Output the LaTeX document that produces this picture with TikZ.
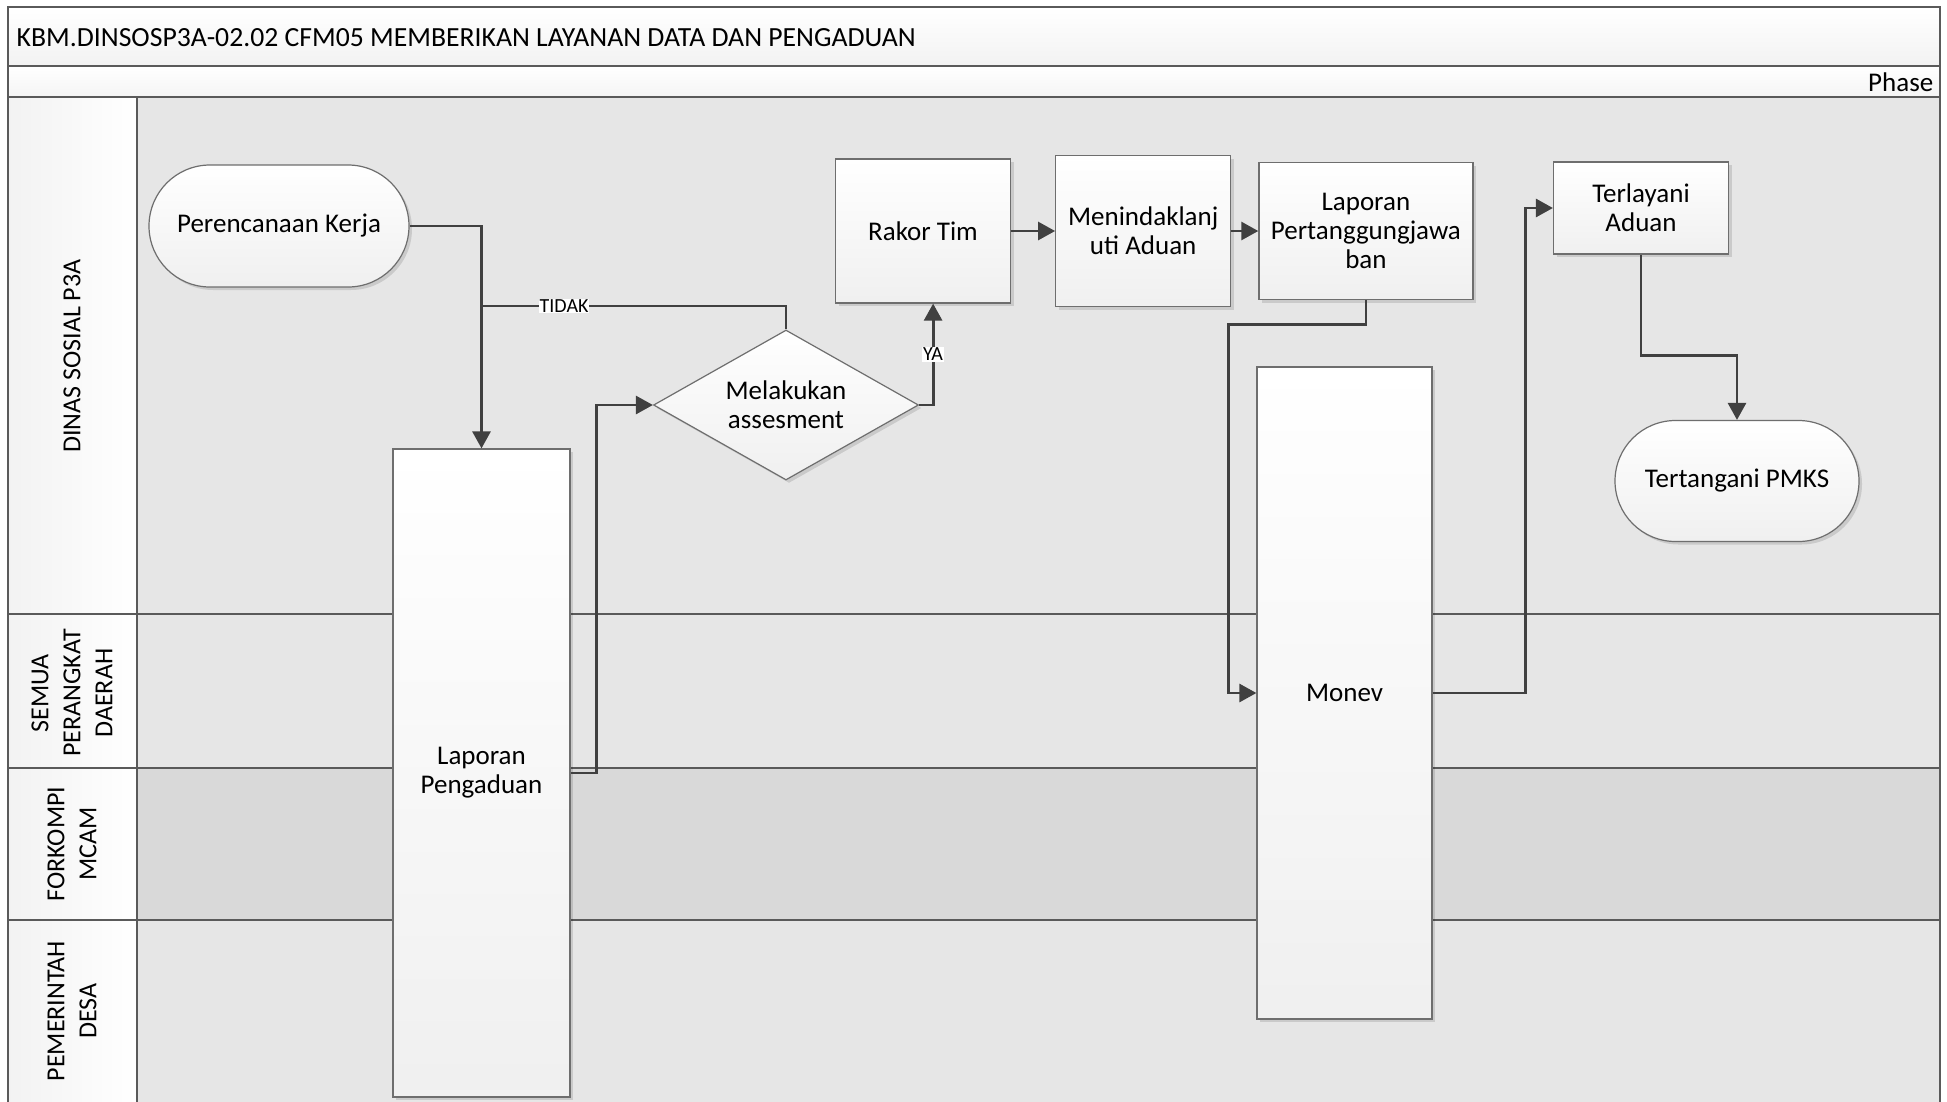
\documentclass[tikz,border=0pt]{standalone}
\usepackage{fontspec}
\setmainfont{Carlito}
\usetikzlibrary{arrows.meta, positioning, shapes.geometric, shapes.misc, shadows}

\definecolor{lanegray}{HTML}{E6E6E6}
\definecolor{lanedark}{HTML}{D9D9D9}
\definecolor{rulegray}{HTML}{5A5A5A}
\definecolor{linkgray}{HTML}{404040}
\definecolor{boxline}{HTML}{6E6E6E}

\begin{document}
\begin{tikzpicture}[x=1pt,y=-1pt,>=Triangle,thick,
  font=\fontsize{27}{29}\selectfont,
  base node/.style={draw=boxline,line width=1.2pt,top color=white,bottom color=black!6,
    drop shadow={shadow xshift=3pt,shadow yshift=-3pt,fill=black,opacity=0.12},
    align=center,inner sep=2pt},
  proc node/.style={base node,rectangle,minimum width=175pt},
  term node/.style={base node,rounded rectangle,minimum height=122pt},
  dec node/.style={base node,diamond,aspect=1.77,minimum width=265pt,minimum height=150pt,inner sep=0pt},
  lane label/.style={rotate=90,align=center,font=\fontsize{26}{32}\selectfont},
  link/.style={draw=linkgray,line width=2.8pt},
  flow/.style={link,-{Triangle[length=17pt,width=18pt]}},
  tag/.style={fill=white,inner sep=1pt,font=\fontsize{20}{22}\selectfont}]
  \useasboundingbox (0,0) rectangle (1947,1101);
  % title and phase
  \draw[rulegray,line width=1.5pt,top color=white,bottom color=black!5] (8,7) rectangle (1940,66);
  \node[anchor=west,font=\fontsize{27.7}{30}\selectfont] (title) at (13,38) {KBM.DINSOSP3A-02.02 CFM05 MEMBERIKAN LAYANAN DATA DAN PENGADUAN};
  \draw[rulegray,line width=1.5pt,top color=white,bottom color=black!4] (8,66) rectangle (1940,97);
  \node[anchor=east] (phase) at (1937,82) {Phase};
  % lanes
  \foreach \ytop/\ybot/\col in {97/614/lanegray,614/768/lanegray,768/920/lanedark,920/1120/lanegray}{
    \draw[rulegray,line width=1.5pt,fill=\col] (137,\ytop) rectangle (1940,\ybot);
    \draw[rulegray,line width=1.5pt,left color=black!5,right color=white] (8,\ytop) rectangle (137,\ybot);
  }
  \node[lane label] (dinas) at (72,356) {DINAS SOSIAL P3A};
  \node[lane label] (semua) at (72,693) {SEMUA\\PERANGKAT\\DAERAH};
  \node[lane label] (forko) at (72,844) {FORKOMPI\\MCAM};
  \node[lane label] (desa) at (72,1011) {PEMERINTAH\\DESA};
  % steps
  \node[term node,minimum width=264pt] (plan) at (279,226) {Perencanaan Kerja};
  \node[proc node,minimum width=177pt,minimum height=648pt] (lapor) at (481.5,773) {Laporan\\Pengaduan};
  \node[dec node] (assess) at (786,405) {Melakukan\\assesment};
  \node[proc node,minimum height=144pt] (rakor) at (923,231) {Rakor Tim};
  \node[proc node,minimum height=151pt,right=44pt of rakor] (tindak) {Menindaklanj\\uti Aduan};
  \node[proc node,minimum width=214pt,minimum height=137pt,right=27pt of tindak] (lpj) {Laporan\\Pertanggungjawa\\ban};
  \node[proc node,minimum height=652pt] (monev) at (1344.5,693) {Monev};
  \node[proc node,minimum height=92pt] (layan) at (1641,208) {Terlayani\\Aduan};
  \node[term node,minimum width=248pt,minimum height=121pt] (pmks) at (1737,481) {Tertangani PMKS};
  \coordinate (tidak) at (482,306);
  % connectors
  \draw[flow] (plan.east) -| (lapor.north);
  \draw[link] (assess.north) |- (tidak) node[tag,pos=0.865] {TIDAK};
  \draw[flow] (lapor.east) -- ++(26,0) |- (assess.west);
  \draw[flow] (assess.east) -- ++(14,0) coordinate (ya) -- (ya |- rakor.south) node[tag,midway] {YA};
  \draw[flow] (rakor) -- (tindak);
  \draw[flow] (tindak) -- (lpj);
  \draw[flow] (lpj.south) -- ++(0,24) -| ([xshift=-28pt]monev.west) -- (monev.west);
  \draw[flow] (monev.east) -- ++(93,0) |- (layan.west);
  \draw[flow] (layan.south) -- ++(0,101) -| (pmks.north);
\end{tikzpicture}
\end{document}
